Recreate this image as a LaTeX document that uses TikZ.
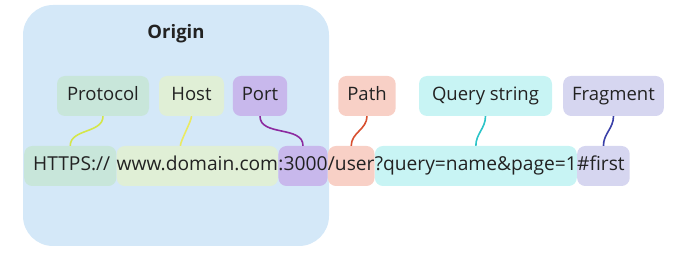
\documentclass[tikz,border=0pt]{standalone}
\usepackage{fontspec}
\setmainfont{Open Sans}
\usepackage{xcolor}
\usepackage{tikz}
\usetikzlibrary{positioning,calc}
\definecolor{ink}{HTML}{222222}
\definecolor{originbg}{HTML}{D4E8F8}
\definecolor{protobg}{HTML}{C8E6DA}
\definecolor{hostbg}{HTML}{E0EFD6}
\definecolor{portbg}{HTML}{C8B8EC}
\definecolor{pathbg}{HTML}{F8D0C6}
\definecolor{querybg}{HTML}{C8F4F4}
\definecolor{fragbg}{HTML}{D6D6F0}
\definecolor{protoln}{HTML}{D4E64A}
\definecolor{hostln}{HTML}{EAEA62}
\definecolor{portln}{HTML}{8C2AA0}
\definecolor{pathln}{HTML}{D85030}
\definecolor{queryln}{HTML}{2CC4C8}
\definecolor{fragln}{HTML}{3A40A8}
\begin{document}
\begin{tikzpicture}[x=1pt,y=1pt,
  txt/.style={font=\fontsize{18.5}{22}\selectfont,text=ink},
  tag/.style={txt,rounded corners=8pt,minimum height=40pt,inner xsep=9pt,text height=14pt,text depth=4pt},
  seg/.style={tag,font=\fontsize{19.2}{23}\selectfont,inner xsep=0pt,anchor=west},
  link/.style={draw,line width=1.6pt}]
  \useasboundingbox (0,0) rectangle (673,257);
  \node[fill=originbg,rounded corners=30pt,minimum width=306pt,minimum height=241pt] (origin) at (176,131.5) {};
  \node[txt,font=\fontsize{18.5}{22}\selectfont\bfseries,below=16pt of origin.north] (title) {Origin};
  % labels
  \node[tag,fill=protobg,minimum width=92pt] (protocol) at (103,161) {Protocol};
  \node[tag,fill=hostbg,minimum width=65pt] (host) at (191.5,161) {Host};
  \node[tag,fill=portbg,minimum width=52pt] (port) at (260,161) {Port};
  \node[tag,fill=pathbg,minimum width=52pt] (path) at (367,161) {Path};
  \node[tag,fill=querybg,minimum width=133pt] (query) at (485.5,161) {Query string};
  \node[tag,fill=fragbg,minimum width=99pt] (fragment) at (613.5,161) {Fragment};
  % url pieces
  \node[seg,fill=protobg] (https) at (24,91) {\hspace*{9pt}HTTPS://\hspace*{6pt}};
  \node[seg,fill=hostbg] (www) at (https.east) {www.domain.com};
  \node[seg,fill=portbg] (num) at (www.east) {:3000};
  \node[seg,fill=pathbg] (user) at (num.east) {/user};
  \node[seg,fill=querybg] (qs) at (user.east) {?query=name\&page=1};
  \node[seg,fill=fragbg] (hash) at (qs.east) {\#first\hspace*{5pt}};
  \path[link,protoln] (protocol.south) to[out=-90,in=90] (https.north);
  \path[link,hostln] (host.south) to[out=-90,in=90,looseness=0.4] ([xshift=-17pt]www.north);
  \path[link,portln] (port.south) to[out=-90,in=90] (num.north);
  \path[link,pathln] (path.south) to[out=-90,in=90] (user.north);
  \path[link,queryln] (query.south) to[out=-90,in=90] (qs.north);
  \path[link,fragln] (fragment.south) to[out=-90,in=90] (hash.north);
\end{tikzpicture}
\end{document}
